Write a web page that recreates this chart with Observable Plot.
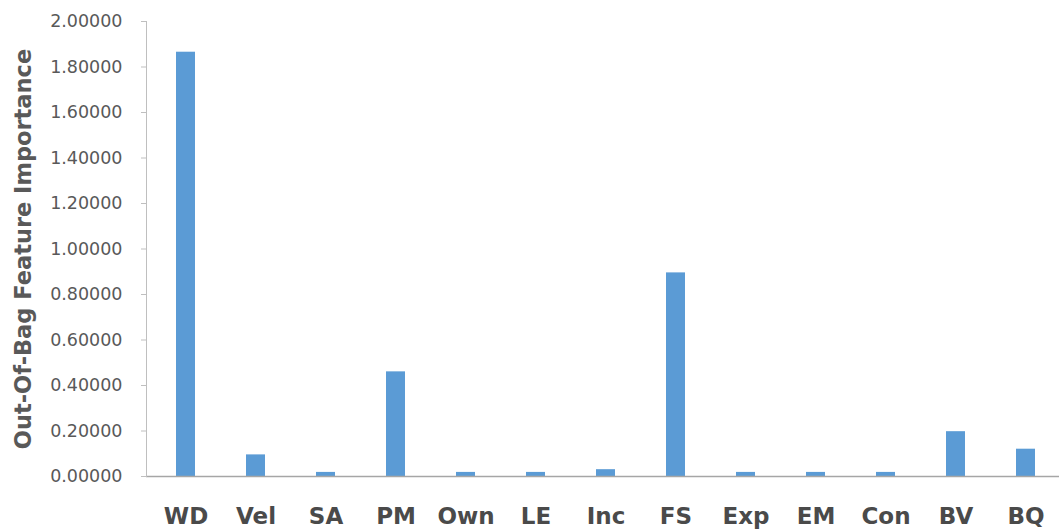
<!DOCTYPE html>
<html>
<head>
<meta charset="utf-8">
<script src="https://cdn.jsdelivr.net/npm/d3@7"></script>
<script src="https://cdn.jsdelivr.net/npm/@observablehq/plot@0.6"></script>
<style>
  html, body { margin: 0; padding: 0; background: #fff; overflow: hidden; }
</style>
</head>
<body>
<div id="chart"></div>
<script>
const features = ["WD", "Vel", "SA", "PM", "Own", "LE", "Inc", "FS", "Exp", "EM", "Con", "BV", "BQ"];
const importance = [1.865, 0.095, 0.018, 0.46, 0.018, 0.018, 0.03, 0.895, 0.018, 0.018, 0.018, 0.197, 0.12];
const yTicks = [0, 0.2, 0.4, 0.6, 0.8, 1.0, 1.2, 1.4, 1.6, 1.8, 2.0];
const yLabel = "Out-Of-Bag Feature Importance";

const data = features.map((f, i) => ({feature: f, value: importance[i]}));

const chart = Plot.plot({
  width: 1059,
  height: 531,
  marginLeft: 146,
  marginRight: -5,
  marginTop: 21,
  marginBottom: 55,
  style: {fontFamily: "'DejaVu Sans', sans-serif", background: "#fff"},
  x: {domain: features, paddingInner: 0.73, paddingOuter: 0.365, label: null},
  y: {domain: [0, 2], label: null},
  marks: [
    Plot.barY(data, {x: "feature", y: "value", fill: "#5B9BD5"}),
    Plot.ruleY([0], {stroke: "#a6a6a6", strokeWidth: 1.3}),
    Plot.frame({anchor: "left", stroke: "#bfbfbf"}),
    Plot.axisY({ticks: yTicks, tickFormat: d => d.toFixed(5), tickSize: 5, tickPadding: 19, fontSize: 17.5, color: "#595959", stroke: "#bfbfbf", label: null}),
    Plot.axisX({tickSize: 0, tickPadding: 31, fontSize: 23, fontWeight: "bold", color: "#4a4a4a", label: null}),
    Plot.text([yLabel], {frameAnchor: "left", textAnchor: "middle", rotate: -90, dx: -123, fontSize: 22.5, fontWeight: "bold", fill: "#595959"})
  ]
});
document.getElementById("chart").appendChild(chart);
</script>
</body>
</html>
